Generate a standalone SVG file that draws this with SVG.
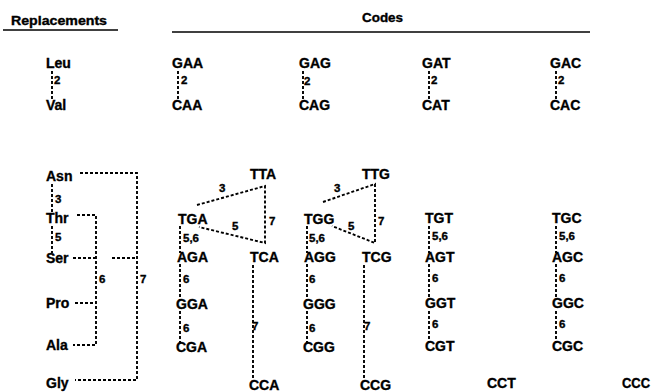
<svg xmlns="http://www.w3.org/2000/svg" width="652" height="392" viewBox="0 0 652 392">
<style>
text{font-family:"Liberation Sans",Arial,sans-serif;font-weight:bold;fill:#000;stroke:#000;stroke-width:0.35}
.n{font-size:14px}
.l{font-size:11.5px}
.h{font-size:12px}
.d{fill:none;stroke:#000;stroke-width:1.9;stroke-dasharray:3 2}
.s{stroke:#000;stroke-width:1.6}
</style>
<rect width="652" height="392" fill="#fff"/>
<g id="headers">
<text class="h" x="11" y="25" textLength="96" lengthAdjust="spacingAndGlyphs">Replacements</text>
<line class="s" x1="3" y1="30" x2="118" y2="30"/>
<text class="h" x="362" y="22" textLength="41" lengthAdjust="spacingAndGlyphs">Codes</text>
<line class="s" x1="172" y1="32" x2="590" y2="32"/>
</g>
<g id="connectors">
<line class="d" x1="52" y1="71" x2="52" y2="100"/>
<line class="d" x1="178" y1="71" x2="178" y2="100"/>
<line class="d" x1="303" y1="71" x2="303" y2="100"/>
<line class="d" x1="429" y1="71" x2="429" y2="100"/>
<line class="d" x1="556" y1="71" x2="556" y2="100"/>
<line class="d" x1="52" y1="184" x2="52" y2="212"/>
<line class="d" x1="52" y1="226" x2="52" y2="253"/>
<polyline class="d" points="80,173 137,173 137,380 75,380"/>
<polyline class="d" points="77,215 96,215 96,345 73,345"/>
<line class="d" x1="73" y1="258" x2="96" y2="258"/>
<line class="d" x1="75" y1="303" x2="96" y2="303"/>
<line class="d" x1="112" y1="258" x2="137" y2="258"/>
<polyline class="d" points="197,205 265,186 265,243 199,227"/>
<polyline class="d" points="323,202 375,184 375,243 332,226"/>
<line class="d" x1="180" y1="226" x2="180" y2="253"/>
<line class="d" x1="180" y1="264" x2="180" y2="300"/>
<line class="d" x1="180" y1="311" x2="180" y2="343"/>
<line class="d" x1="307" y1="226" x2="307" y2="253"/>
<line class="d" x1="307" y1="264" x2="307" y2="300"/>
<line class="d" x1="307" y1="311" x2="307" y2="343"/>
<line class="d" x1="429" y1="226" x2="429" y2="253"/>
<line class="d" x1="429" y1="264" x2="429" y2="300"/>
<line class="d" x1="429" y1="311" x2="429" y2="343"/>
<line class="d" x1="556" y1="226" x2="556" y2="253"/>
<line class="d" x1="556" y1="264" x2="556" y2="300"/>
<line class="d" x1="556" y1="311" x2="556" y2="343"/>
<line class="d" x1="253" y1="265" x2="253" y2="380"/>
<line class="d" x1="364" y1="265" x2="364" y2="380"/>
</g>
<g id="edge-labels">
<text class="l" x="54" y="84">2</text>
<text class="l" x="181" y="84">2</text>
<text class="l" x="304" y="85">2</text>
<text class="l" x="431" y="84">2</text>
<text class="l" x="558" y="84">2</text>
<text class="l" x="55" y="203">3</text>
<text class="l" x="55" y="241">5</text>
<text class="l" x="99" y="283">6</text>
<text class="l" x="140" y="283">7</text>
<text class="l" x="219" y="192">3</text>
<text class="l" x="232" y="230">5</text>
<text class="l" x="269" y="225">7</text>
<text class="l" x="334" y="192">3</text>
<text class="l" x="348" y="230">5</text>
<text class="l" x="378" y="225">7</text>
<text class="l" x="183" y="242">5,6</text>
<text class="l" x="183" y="283">6</text>
<text class="l" x="183" y="332">6</text>
<text class="l" x="252" y="330">7</text>
<text class="l" x="309" y="242">5,6</text>
<text class="l" x="309" y="283">6</text>
<text class="l" x="309" y="332">6</text>
<text class="l" x="364" y="330">7</text>
<text class="l" x="432" y="240">5,6</text>
<text class="l" x="432" y="282">6</text>
<text class="l" x="432" y="328">6</text>
<text class="l" x="559" y="240">5,6</text>
<text class="l" x="559" y="282">6</text>
<text class="l" x="559" y="328">6</text>
</g>
<g id="Leu"><text class="n" x="46" y="68">Leu</text></g>
<g id="Val"><text class="n" x="46" y="110">Val</text></g>
<g id="GAA"><text class="n" x="172" y="68">GAA</text></g>
<g id="CAA"><text class="n" x="172" y="110">CAA</text></g>
<g id="GAG"><text class="n" x="299" y="68">GAG</text></g>
<g id="CAG"><text class="n" x="299" y="110">CAG</text></g>
<g id="GAT"><text class="n" x="422" y="68">GAT</text></g>
<g id="CAT"><text class="n" x="422" y="110">CAT</text></g>
<g id="GAC"><text class="n" x="550" y="68">GAC</text></g>
<g id="CAC"><text class="n" x="550" y="110">CAC</text></g>
<g id="Asn"><text class="n" x="46" y="181">Asn</text></g>
<g id="Thr"><text class="n" x="46" y="223">Thr</text></g>
<g id="Ser"><text class="n" x="46" y="263">Ser</text></g>
<g id="Pro"><text class="n" x="46" y="308">Pro</text></g>
<g id="Ala"><text class="n" x="46" y="350">Ala</text></g>
<g id="Gly"><text class="n" x="46" y="388">Gly</text></g>
<g id="TTA"><text class="n" x="250" y="179">TTA</text></g>
<g id="TTG"><text class="n" x="362" y="179">TTG</text></g>
<g id="TGA"><text class="n" x="178" y="224">TGA</text></g>
<g id="TGG"><text class="n" x="304" y="224">TGG</text></g>
<g id="TGT"><text class="n" x="425" y="223">TGT</text></g>
<g id="TGC"><text class="n" x="552" y="223">TGC</text></g>
<g id="AGA"><text class="n" x="177" y="262">AGA</text></g>
<g id="TCA"><text class="n" x="250" y="262">TCA</text></g>
<g id="AGG"><text class="n" x="304" y="262">AGG</text></g>
<g id="TCG"><text class="n" x="362" y="262">TCG</text></g>
<g id="AGT"><text class="n" x="425" y="262">AGT</text></g>
<g id="AGC"><text class="n" x="552" y="262">AGC</text></g>
<g id="GGA"><text class="n" x="176" y="309">GGA</text></g>
<g id="GGG"><text class="n" x="303" y="309">GGG</text></g>
<g id="GGT"><text class="n" x="425" y="308">GGT</text></g>
<g id="GGC"><text class="n" x="552" y="308">GGC</text></g>
<g id="CGA"><text class="n" x="176" y="352">CGA</text></g>
<g id="CGG"><text class="n" x="303" y="352">CGG</text></g>
<g id="CGT"><text class="n" x="425" y="351">CGT</text></g>
<g id="CGC"><text class="n" x="552" y="351">CGC</text></g>
<g id="CCA"><text class="n" x="249" y="390">CCA</text></g>
<g id="CCG"><text class="n" x="360" y="390">CCG</text></g>
<g id="CCT"><text class="n" x="487" y="388">CCT</text></g>
<g id="CCC"><text class="n" x="622" y="388" textLength="28" lengthAdjust="spacingAndGlyphs">CCC</text></g>
</svg>
